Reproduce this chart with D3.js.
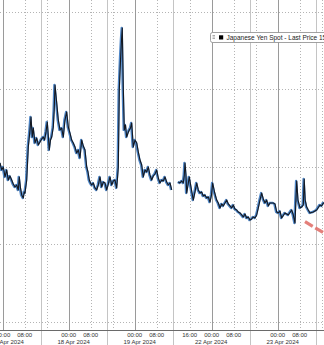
<!DOCTYPE html>
<html><head><meta charset="utf-8">
<script src="https://cdn.jsdelivr.net/npm/d3@7"></script>
<style>html,body{margin:0;padding:0;background:#fff;overflow:hidden}svg{display:block}</style>
</head><body>
<script>
// ---- data (x in trading hours since 17 Apr 00:00, weekend removed) ----
const hours = [-0.98,-0.36,0.22,0.84,1.45,2.04,2.65,3.27,3.85,4.47,5.09,5.67,6.04,6.47,6.91,7.49,7.82,8.11,8.73,9.31,9.64,9.93,10.29,10.76,11.13,11.75,12.36,12.95,13.56,14.18,14.76,15.24,15.75,16.22,16.95,17.38,17.82,18.40,18.73,19.02,19.64,20.22,20.84,21.45,22.04,22.65,23.27,23.85,24.47,25.09,25.67,26.29,26.91,27.49,28.11,28.73,29.31,29.93,30.55,31.02,31.49,31.93,32.36,32.95,33.56,34.18,34.76,35.38,36.00,36.58,37.20,37.82,38.40,39.02,39.64,40.22,40.84,41.45,41.75,42.04,42.40,42.84,43.20,43.49,43.85,44.22,44.65,45.09,45.56,46.04,46.47,46.91,47.49,48.11,48.73,49.31,49.93,50.55,51.13,51.75,52.36,52.95,53.56,54.18,54.76,55.38,56.00,56.58,57.20,57.82,58.40,59.02,59.64,60.22,60.84,61.45,62.6,63.85,64.47,65.09,65.67,66.04,66.29,66.65,66.91,67.38,67.85,68.65,69.31,69.93,70.55,71.13,71.75,72.36,72.95,73.56,74.18,74.76,75.38,75.93,76.36,77.02,77.82,78.40,79.02,79.64,80.22,80.84,81.45,82.04,82.65,83.27,83.85,84.47,85.09,85.67,86.29,86.91,87.49,88.11,88.73,89.31,89.93,90.55,91.13,91.75,92.36,92.95,93.56,94.18,94.76,95.38,96.00,96.58,97.20,97.82,98.40,99.02,99.64,100.22,100.84,101.45,102.65,103.85,105.09,105.67,106.29,106.91,107.38,108.11,108.73,109.31,109.64,110.0,110.55,111.13,111.75,112.95,114.18,115.38,116.00,116.58,117.93];
const prices = [154.475,154.520,154.501,154.565,154.520,154.585,154.559,154.585,154.611,154.630,154.617,154.649,154.565,154.636,154.681,154.701,154.662,154.669,154.585,154.372,154.314,154.262,154.179,154.308,154.250,154.346,154.314,154.359,154.340,154.320,154.308,154.327,154.275,154.211,154.391,154.327,154.308,154.243,154.134,153.972,154.088,154.198,154.262,154.250,154.308,154.198,154.146,154.243,154.282,154.327,154.346,154.372,154.411,154.391,154.443,154.327,154.366,154.391,154.501,154.533,154.585,154.604,154.617,154.604,154.636,154.649,154.617,154.565,154.630,154.598,154.604,154.649,154.611,154.565,154.617,154.591,154.585,154.636,154.572,154.501,154.005,153.811,153.682,153.605,153.985,154.262,154.230,154.308,154.282,154.262,154.250,154.217,154.372,154.327,154.346,154.404,154.456,154.488,154.565,154.520,154.533,154.501,154.553,154.585,154.559,154.546,154.520,154.572,154.604,154.585,154.591,154.565,154.598,154.617,154.604,154.649,null,154.598,154.604,154.591,154.604,154.553,154.475,154.553,154.669,154.617,154.565,154.649,154.714,154.662,154.604,154.649,154.669,154.662,154.688,154.681,154.701,154.694,154.727,154.681,154.604,154.662,154.714,154.733,154.765,154.739,154.752,154.733,154.714,154.739,154.752,154.765,154.746,154.772,154.778,154.791,154.797,154.810,154.823,154.804,154.830,154.823,154.843,154.836,154.823,154.830,154.810,154.765,154.714,154.669,154.707,154.733,154.714,154.752,154.733,154.733,154.733,154.739,154.791,154.797,154.785,154.830,154.797,154.810,154.778,154.810,154.862,154.591,154.714,154.765,154.759,154.746,154.578,154.714,154.759,154.778,154.797,154.791,154.778,154.746,154.752,154.733,154.739];

const gridPrices = [153.5, 154.0, 154.5, 155.0, 155.5];
const dayLineHours = [0, 24, 48, 76, 100];
const minorLineHours = [8, 16, 32, 40, 56, 68, 84, 92, 108, 116];
const sessionHours = [-10.2, 13.8, 37.8, 61.8, 89.8, 113.8];
const timeTickHours = [0, 8, 24, 32, 48, 56, 68, 76, 84, 100, 108];
const timeTickLabels = ["00:00","08:00","00:00","08:00","00:00","08:00","16:00","00:00","08:00","00:00","08:00"];
const dateLabels = ["17 Apr 2024","18 Apr 2024","19 Apr 2024","22 Apr 2024","23 Apr 2024"];
const seriesName = "Japanese Yen Spot - Last Price";
const lastPriceLabel = "154.74";
const arrowHours = [109.93, 119.02];
const arrowPrices = [154.853, 154.950];

// ---- layout ----
const W = 324, H = 345;
const plotTop = 0, axisY = 330;
const x = d3.scaleLinear().domain([0, 116]).range([2.7, 321.7]);
const y = d3.scaleLinear().domain([153.5, 155.5]).range([11.7, 322]); // inverted price axis

const svg = d3.select("body").append("svg").attr("width", W).attr("height", H);
svg.append("rect").attr("width", W).attr("height", H).attr("fill", "#fff");

// horizontal dotted grid
svg.append("g").selectAll("line").data(gridPrices).join("line")
  .attr("x1", 0).attr("x2", W)
  .attr("y1", d => Math.round(y(d)) + 0.5).attr("y2", d => Math.round(y(d)) + 0.5)
  .attr("stroke", "#b4b4b4").attr("stroke-dasharray", "1,2");

// minor (dotted) verticals
svg.append("g").selectAll("line").data(minorLineHours).join("line")
  .attr("x1", d => Math.round(x(d)) + 0.5).attr("x2", d => Math.round(x(d)) + 0.5)
  .attr("y1", plotTop).attr("y2", axisY)
  .attr("stroke", "#b4b4b4").attr("stroke-dasharray", "1,2");

// session separators (light solid), extend into label band
svg.append("g").selectAll("line").data(sessionHours).join("line")
  .attr("x1", d => Math.round(x(d)) + 0.5).attr("x2", d => Math.round(x(d)) + 0.5)
  .attr("y1", plotTop).attr("y2", H)
  .attr("stroke", "#c4c4c4");

// day lines (solid gray)
svg.append("g").selectAll("line").data(dayLineHours).join("line")
  .attr("x1", d => Math.round(x(d)) + 0.5).attr("x2", d => Math.round(x(d)) + 0.5)
  .attr("y1", plotTop).attr("y2", axisY)
  .attr("stroke", "#9a9a9a");

// series
const pts = hours.map((h, i) => ({h, v: prices[i]}));
const line = d3.line().defined(d => d.v != null).x(d => x(d.h)).y(d => y(d.v));
svg.append("path").datum(pts).attr("d", line)
  .attr("fill", "none").attr("stroke", "#4f86c6").attr("stroke-width", 2.4)
  .attr("stroke-linejoin", "round").attr("transform", "translate(-0.6,0)");
svg.append("path").datum(pts).attr("d", line)
  .attr("fill", "none").attr("stroke", "#141820").attr("stroke-width", 1.1)
  .attr("stroke-linejoin", "round");

// red dashed annotation
svg.append("line")
  .attr("x1", x(arrowHours[0])).attr("y1", y(arrowPrices[0]))
  .attr("x2", x(arrowHours[1])).attr("y2", y(arrowPrices[1]))
  .attr("stroke", "#e2726c").attr("stroke-width", 3.2)
  .attr("stroke-dasharray", "9,3").attr("stroke-linecap", "butt").attr("opacity", 0.9);

// legend
const lg = svg.append("g");
lg.append("rect").attr("x", 210.5).attr("y", 32.5).attr("width", 140).attr("height", 10).attr("rx", 2)
  .attr("fill", "#fff").attr("stroke", "#8a8a8a").attr("stroke-width", 0.8);
[0, 1, 2].forEach(i => lg.append("rect").attr("x", 212.5).attr("y", 35 + i * 1.6).attr("width", 2.5).attr("height", 0.8).attr("fill", "#999"));
lg.append("rect").attr("x", 219).attr("y", 35.3).attr("width", 4.2).attr("height", 4.2).attr("fill", "#000");
lg.append("text").attr("x", 226.5).attr("y", 39.9)
  .attr("font-family", "Liberation Sans, Arial, sans-serif").attr("font-size", 6.5).attr("fill", "#222")
  .text(seriesName + " " + lastPriceLabel);

// axis band
svg.append("line").attr("x1", 0).attr("x2", W).attr("y1", axisY + 0.5).attr("y2", axisY + 0.5)
  .attr("stroke", "#6a6a6a");
svg.append("g").selectAll("text").data(timeTickHours).join("text")
  .attr("x", d => x(d)).attr("y", 336.6).attr("text-anchor", "middle")
  .attr("font-family", "Liberation Sans, Arial, sans-serif").attr("font-size", 6).attr("fill", "#333")
  .text((d, i) => timeTickLabels[i]);
svg.append("g").selectAll("text").data(dateLabels).join("text")
  .attr("x", (d, i) => (x(sessionHours[i]) + x(sessionHours[i + 1])) / 2).attr("y", 344.4)
  .attr("text-anchor", "middle")
  .attr("font-family", "Liberation Sans, Arial, sans-serif").attr("font-size", 6).attr("fill", "#333")
  .text(d => d);
</script>
</body></html>
